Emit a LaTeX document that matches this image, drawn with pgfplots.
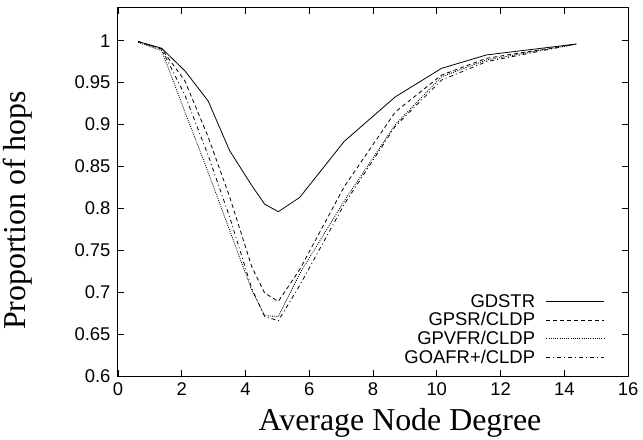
\documentclass[border=0pt]{standalone}
\usepackage{fontspec}
\setmainfont{Liberation Serif}
\setsansfont{Liberation Sans}
\usepackage{pgfplots}
\pgfplotsset{compat=1.18}
\pgfplotstableread{
x      gdstr  gpsr   gpvfr  goafr
0.63   0.999  0.999  0.998  0.999
1.37   0.991  0.990  0.988  0.990
2.1    0.964  0.952  0.915  0.935
2.83   0.928  0.885  0.843  0.863
3.5    0.869  0.814  0.774  0.790
4.2    0.827  0.730  0.702  0.704
4.6    0.805  0.699  0.672  0.671
5.03   0.796  0.689  0.671  0.666
5.7    0.813  0.727  0.722  0.708
7.1    0.880  0.826  0.809  0.805
8.7    0.933  0.915  0.900  0.898
10.15  0.967  0.959  0.957  0.953
11.56  0.983  0.979  0.977  0.975
14.38  0.996  0.996  0.996  0.996
}\data
\begin{document}
\begin{tikzpicture}
\useasboundingbox (-118bp,-64bp) rectangle (525bp,376bp);
\begin{axis}[
  at={(0,0)}, anchor=south west,
  width=510bp, height=368bp, scale only axis,
  xmin=0, xmax=16, ymin=0.6, ymax=1.039,
  xtick={0,2,...,16},
  ytick={0.6,0.65,0.7,0.75,0.8,0.85,0.9,0.95,1},
  yticklabels={0.6,0.65,0.7,0.75,0.8,0.85,0.9,0.95,1},
  tick align=inside, major tick length=6bp,
  axis line style={line width=1bp},
  tick style={line width=0.8bp, black},
  ticklabel style={font=\sffamily\fontsize{18.5}{18.5}\selectfont},
  yticklabel style={xshift=-4bp},
  xticklabel style={yshift=-3bp},
  /pgf/number format/assume math mode=true,
  xlabel={Average Node Degree}, ylabel={Proportion of hops},
  label style={font=\fontsize{32}{32}\selectfont},
  x label style={at={(axis description cs:0.553,-0.147)}, anchor=base},
  y label style={at={(axis description cs:-0.196,0.45)}, anchor=center, rotate=0},
  legend plot pos=right,
  legend cell align=right,
  legend image code/.code={\path (0bp,0bp); \draw[#1] (9bp,0bp) -- (67bp,0bp);},
  legend style={at={(axis description cs:0.955,0.228)}, anchor=north east, draw=none, fill=none,
    font=\sffamily\fontsize{18.5}{19}\selectfont, row sep=0bp, inner sep=0pt},
  every axis plot/.append style={line width=0.8bp, black},
]
\addplot[solid] table[x=x, y=gdstr] {\data};
\addlegendentry{GDSTR}
\addplot[dash pattern=on 4bp off 3bp] table[x=x, y=gpsr] {\data};
\addlegendentry{GPSR/CLDP}
\addplot[dash pattern=on 1bp off 1.2bp] table[x=x, y=gpvfr] {\data};
\addlegendentry{GPVFR/CLDP}
\addplot[dash pattern=on 4bp off 3bp on 1bp off 3bp] table[x=x, y=goafr] {\data};
\addlegendentry{GOAFR+/CLDP}
\end{axis}
\end{tikzpicture}
\end{document}
